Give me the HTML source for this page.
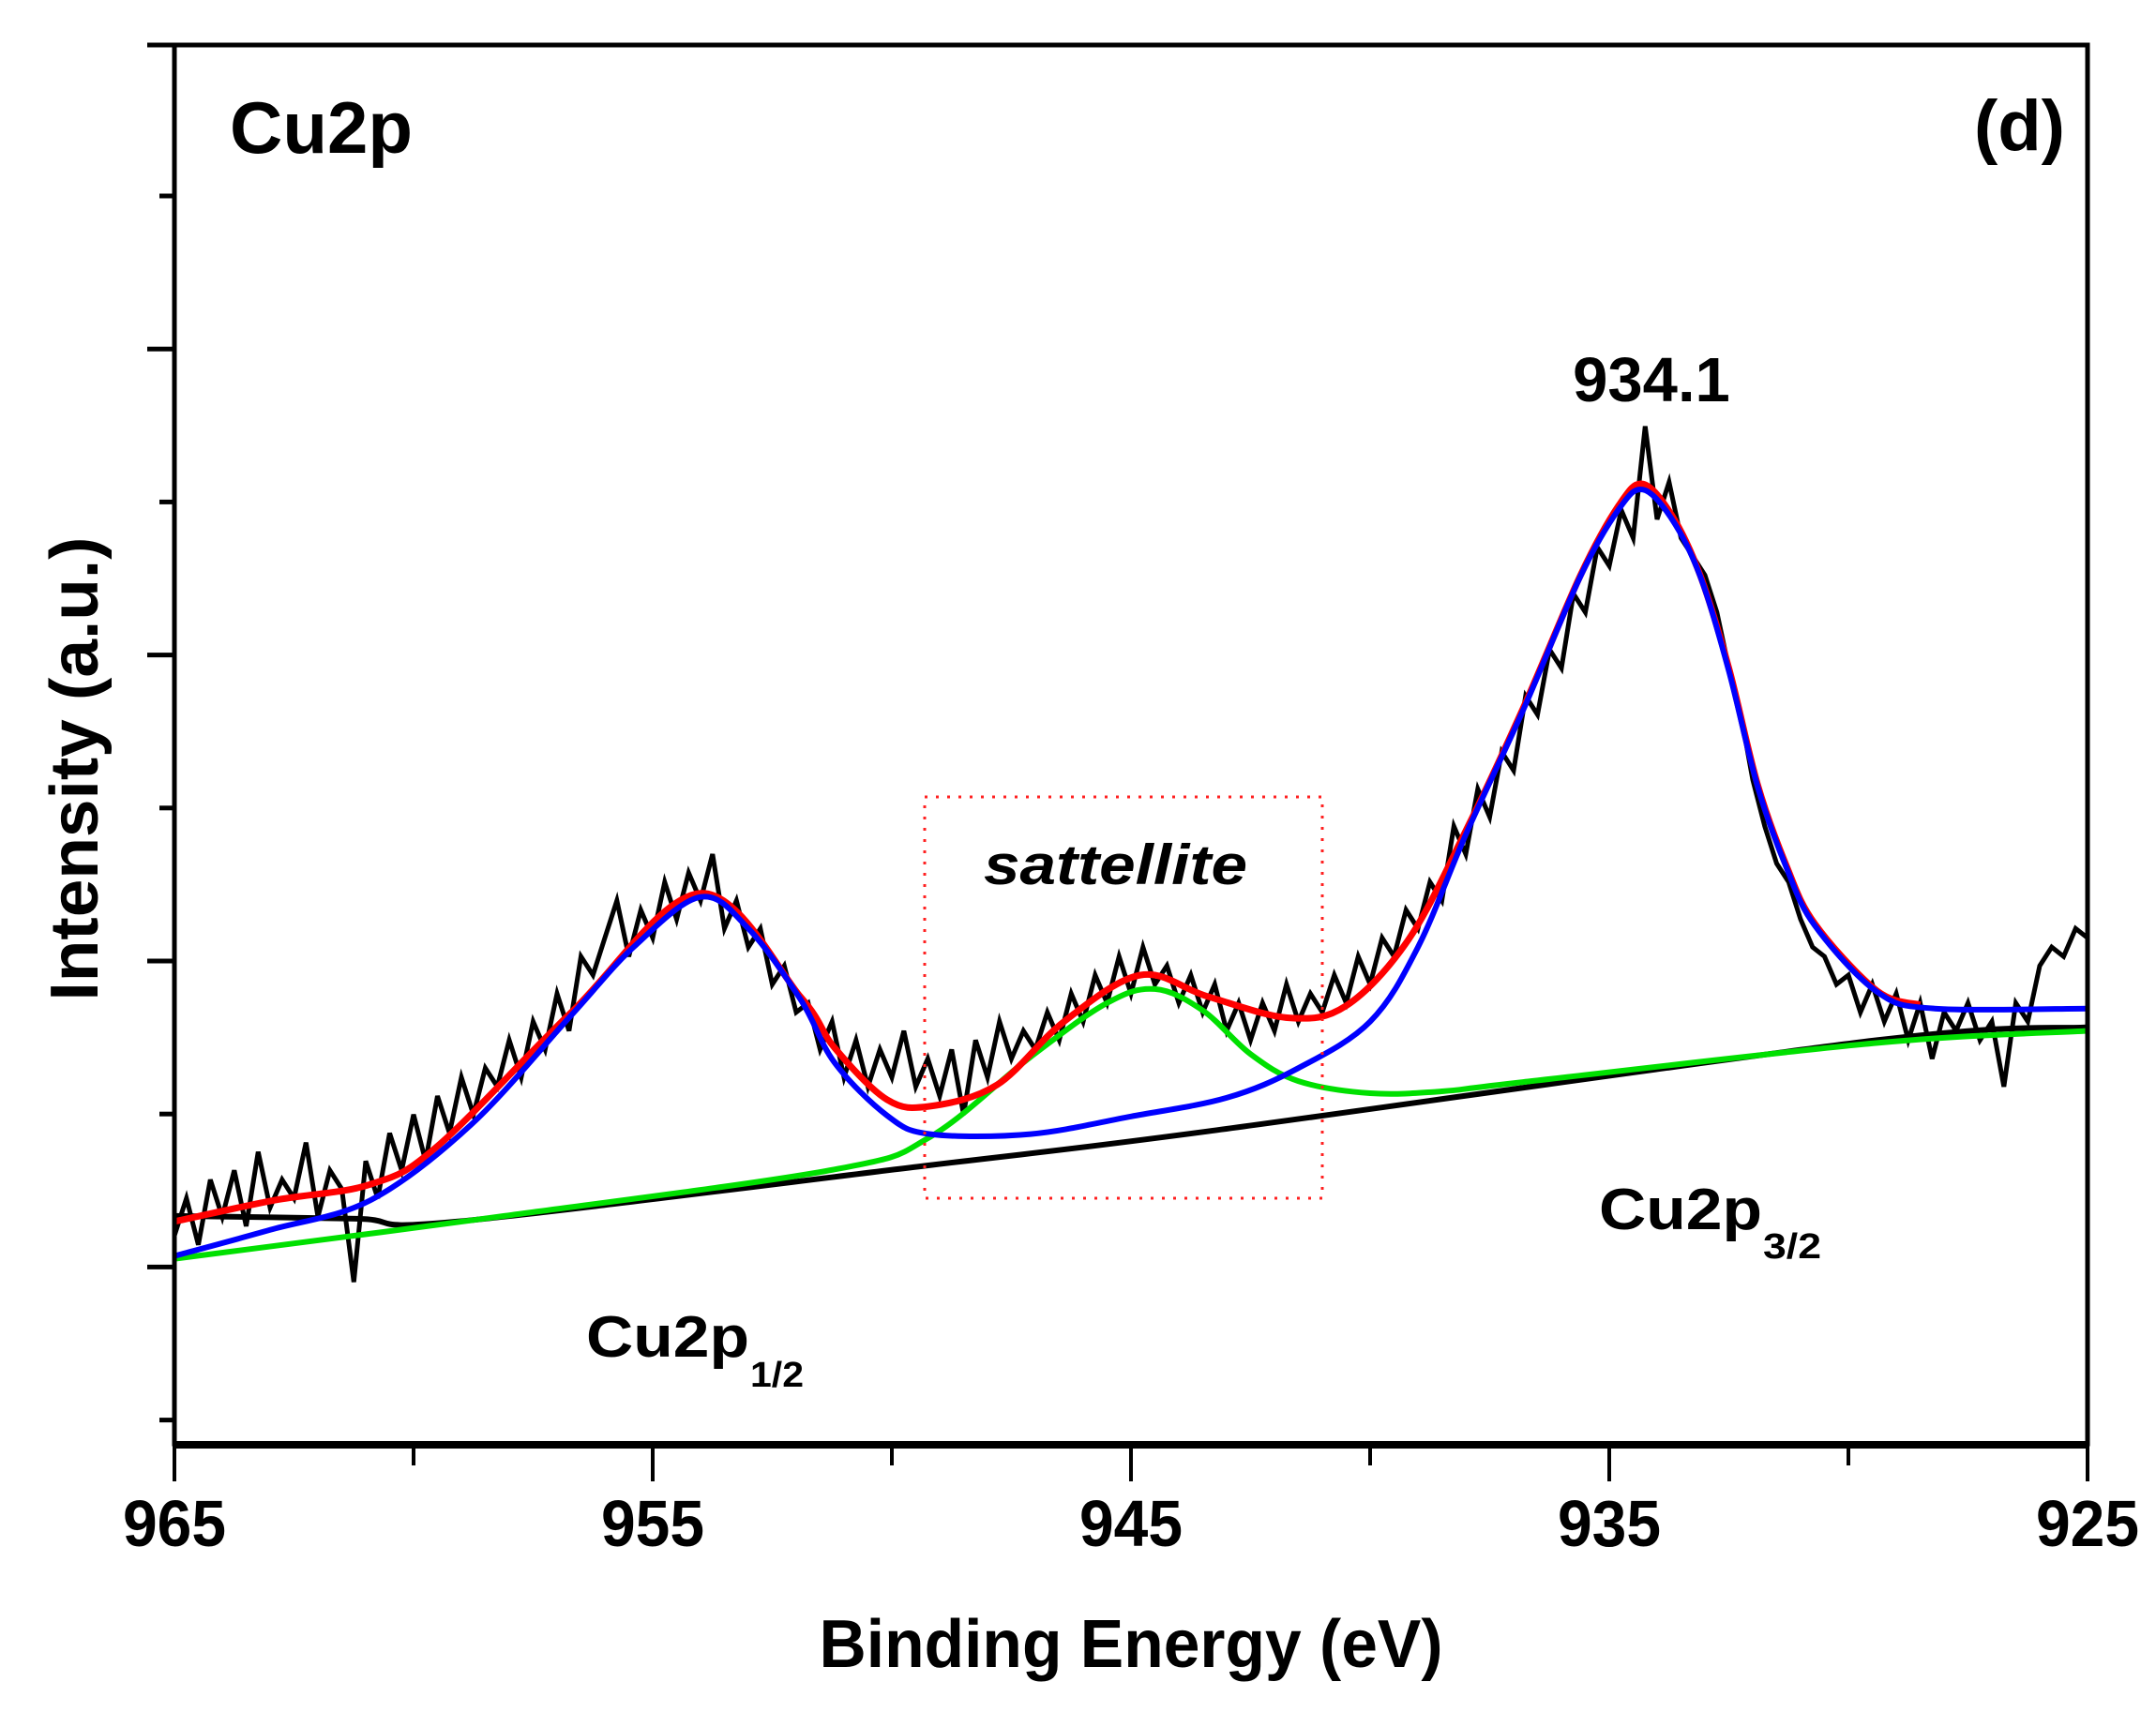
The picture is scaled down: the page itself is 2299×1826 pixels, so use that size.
<!DOCTYPE html>
<html><head><meta charset="utf-8"><title>Cu2p XPS</title>
<style>
html,body{margin:0;padding:0;background:#fff;}
svg{display:block;}
text{font-family:"Liberation Sans",Arial,sans-serif;font-weight:bold;fill:#000;}
</style></head>
<body>
<svg id="chart" width="2299" height="1826" viewBox="0 0 2299 1826" xmlns="http://www.w3.org/2000/svg">
  <rect x="0" y="0" width="2299" height="1826" fill="#fff"/>
  <g id="plot"></g>
  <g id="axes"></g>
  <text x="245" y="163" font-size="78">Cu2p</text>
  <text x="2202" y="160" font-size="76" text-anchor="end">(d)</text>
  <text x="1761" y="428" font-size="67" text-anchor="middle">934.1</text>
  <text x="1049" y="943" font-size="60" font-style="italic" textLength="281" lengthAdjust="spacingAndGlyphs">sattellite</text>
  <rect x="986" y="850" width="424" height="428" fill="none" stroke="#ff2020" stroke-width="3" stroke-dasharray="3 9"/>
  <text x="1705" y="1311" font-size="62" textLength="174" lengthAdjust="spacingAndGlyphs">Cu2p</text>
  <text x="1880" y="1342" font-size="38" textLength="62" lengthAdjust="spacingAndGlyphs">3/2</text>
  <text x="625" y="1447" font-size="62" textLength="174" lengthAdjust="spacingAndGlyphs">Cu2p</text>
  <text x="800" y="1479" font-size="38" textLength="57" lengthAdjust="spacingAndGlyphs">1/2</text>
  <text x="1206" y="1778" font-size="72" text-anchor="middle" textLength="665" lengthAdjust="spacingAndGlyphs">Binding Energy (eV)</text>
  <text x="0" y="0" font-size="72" text-anchor="middle" textLength="495" lengthAdjust="spacingAndGlyphs" transform="translate(104,820) rotate(-90)">Intensity (a.u.)</text>
</svg>
<script>
// ---- data ----
const xTickValues = [965, 955, 945, 935, 925];
const xTickLabels = ["965", "955", "945", "935", "925"];
const xMinorTicks = [960, 950, 940, 930];
const rawStart = 965;
const rawStep = -0.25;
const rawCounts = [
 22,26,21,28,
 24,29,23,31,
 25,28,26,32,
 24,29,27,17,
 30,26,33,29,
 35,30,37,33,
 39,35,40,38,
 43,39,45,42,
 48,44,52,50,
 54,58,52,57,
 54,60,56,61,
 58,63,55,58,
 53,55,49,51,
 46,47,42,45,
 39,43,38,42,
 39,44,38,41,
 37,42,35,43,
 39,45,41,44,
 42,46,43,48,
 45,50,47,52,
 48,53,49,51,
 47,50,46,49,
 44,47,43,47,
 44,49,45,48,
 46,50,47,52,
 49,54,52,57,
 55,60,58,66,
 63,70,67,74,
 72,80,78,85,
 83,91,89,96,
 94,100,97,109,
 99,103,97,95,
 93,89,83,78,
 71,66,62,60,
 56,53,52,49,
 50,46,49,45,
 48,43,47,41,
 46,44,47,43,
 45,38,47,45,
 51,53,52,55,
 54
];
const blueE = [965,963,960.9,958.8,956.7,955.4,954.0,953.0,951.9,951.2,950.1,949.2,947.1,945,943,941.5,940,939,938.0,936.8,935.6,934.8,934.3,933.7,933.1,932.5,931.9,931.3,930.7,929.4,928.2,925];
const blueV = [19.8,22.6,25.8,33.9,45.7,53.0,58.4,55.0,47.3,40.6,34.9,32.9,32.9,34.8,36.8,40.0,45.0,53.0,65.1,78.5,92.9,100.1,102.2,99.1,92.9,82.7,70.3,61.6,55.3,48.2,46.4,46.4];
const redE = [965,962.9,960.9,959.5,956.7,954.0,951.9,951.2,950.1,949.2,947.8,946.4,944.8,943.4,941.7,940.5,939.2,938.0,936.8,935.6,934.8,934.3,933.7,933.1,932.5,931.9,931.3,930.7,929.4,928.5];
const redV = [23.5,25.8,27.5,31.6,46.0,58.8,47.6,42.2,36.6,35.9,38.2,45.0,50.0,47.7,45.4,46.7,53.8,65.5,78.7,93.0,100.5,102.8,99.5,93.0,83.0,70.5,61.8,55.5,48.3,46.8];
const greenE = [965,958.1,951.2,949.2,947.1,945.5,944.5,943.5,942.5,941.5,940,938.5,936.8,929.4,925];
const greenV = [19.5,24.1,29.1,32.6,41.2,47.0,48.5,46.2,41.5,38.6,37.3,37.5,38.5,42.7,44.0];
const bgE = [965,961.2,959.1,949.3,943.4,929.4,925];
const bgV = [24.1,23.8,23.5,29.5,33.2,43.0,44.4];

// ---- axes ----
const X0 = 186, X1 = 2226, Y0 = 48, Y1 = 1536;
const eMax = 965, eMin = 925, vMax = 150;
function xs(e){ return X0 + (eMax - e) * (X1 - X0) / (eMax - eMin); }
function ys(v){ return Y1 - v * (Y1 - Y0) / vMax; }

const NS = "http://www.w3.org/2000/svg";
const plot = document.getElementById('plot');
const axes = document.getElementById('axes');
function mk(tag, attrs, parent){
  const el = document.createElementNS(NS, tag);
  for (const k in attrs) el.setAttribute(k, attrs[k]);
  parent.appendChild(el);
  return el;
}
function smoothPath(E, V){
  const p = E.map((e,i)=>[xs(e), ys(V[i])]);
  let d = "M" + p[0][0].toFixed(1) + "," + p[0][1].toFixed(1);
  for (let i=0;i<p.length-1;i++){
    const a = p[Math.max(i-1,0)], b = p[i], c = p[i+1], n = p[Math.min(i+2,p.length-1)];
    const c1x = b[0] + (c[0]-a[0])/6, c1y = b[1] + (c[1]-a[1])/6;
    const c2x = c[0] - (n[0]-b[0])/6, c2y = c[1] - (n[1]-b[1])/6;
    d += " C"+c1x.toFixed(1)+","+c1y.toFixed(1)+" "+c2x.toFixed(1)+","+c2y.toFixed(1)+" "+c[0].toFixed(1)+","+c[1].toFixed(1);
  }
  return d;
}

const bg = mk('path', {d: smoothPath(bgE, bgV), fill:'none', stroke:'#000', 'stroke-width':6}, plot);



let rd = "";
rawCounts.forEach((v,i)=>{
  const e = rawStart + i*rawStep;
  rd += (i===0?"M":" L") + xs(e).toFixed(1) + "," + ys(v).toFixed(1);
});
const raw = mk('path', {d: rd, fill:'none', stroke:'#000', 'stroke-width':5}, plot);



const gr = mk('path', {d: smoothPath(greenE, greenV), fill:'none', stroke:'#00e000', 'stroke-width':6}, plot);



const rdp = mk('path', {d: smoothPath(redE, redV), fill:'none', stroke:'#ff0000', 'stroke-width':7}, plot);



const bl = mk('path', {d: smoothPath(blueE, blueV), fill:'none', stroke:'#0000ff', 'stroke-width':6}, plot);



const frame = mk('rect', {x:X0, y:Y0, width:X1-X0, height:Y1-Y0+4, fill:'none', stroke:'#000', 'stroke-width':5}, axes);


const xaxis = mk('line', {x1:X0-2, y1:1541, x2:X1+2, y2:1541, stroke:'#000', 'stroke-width':8}, axes);


const tl = mk('line', {x1:157, y1:Y0, x2:X0, y2:Y0, stroke:'#000', 'stroke-width':5}, axes);



xTickValues.forEach((e,i)=>{
  const t = mk('line', {x1:xs(e), y1:1541, x2:xs(e), y2:1580, stroke:'#000', 'stroke-width':4}, axes);
  
  
  const lb = mk('text', {x:xs(e), y:1649, 'font-size':70, 'text-anchor':'middle', textLength:110, lengthAdjust:'spacingAndGlyphs'}, axes);
  lb.textContent = xTickLabels[i];
  
  
});
xMinorTicks.forEach(e=>{
  const t = mk('line', {x1:xs(e), y1:1541, x2:xs(e), y2:1563, stroke:'#000', 'stroke-width':4}, axes);
  
  
});
for (let k=0;k<9;k++){
  const y = 209 + k*163.2;
  const major = (k%2===1);
  const t = mk('line', {x1: major?157:170, y1:y, x2:X0, y2:y, stroke:'#000', 'stroke-width':5}, axes);
  
  
}
</script>
</body></html>
